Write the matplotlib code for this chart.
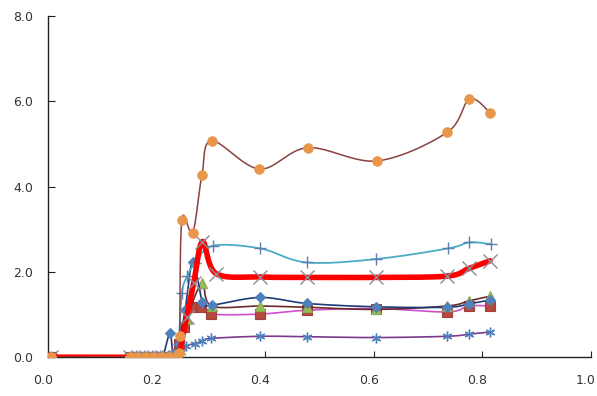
import numpy as np
import matplotlib
matplotlib.use("Agg")
import matplotlib.pyplot as plt
import matplotlib.transforms as mtransforms

# ---- data ----
x_zero = [0.005, 0.15, 0.165, 0.18, 0.195, 0.21, 0.222, 0.235]

orange_x = x_zero + [0.240, 0.242, 0.246, 0.266, 0.283, 0.301, 0.389, 0.478, 0.606, 0.735, 0.776, 0.814]
orange_y = [0]*8 + [0.1, 0.5, 3.22, 2.92, 4.27, 5.07, 4.41, 4.91, 4.60, 5.27, 6.05, 5.73]

cyan_x = x_zero + [0.240, 0.246, 0.256, 0.270, 0.303, 0.390, 0.476, 0.604, 0.737, 0.776, 0.816]
cyan_y = [0]*8 + [0.3, 1.5, 1.9, 2.2, 2.61, 2.55, 2.22, 2.30, 2.55, 2.69, 2.65]

red_x = x_zero + [0.240, 0.255, 0.268, 0.284, 0.309, 0.390, 0.477, 0.604, 0.735, 0.775, 0.814]
red_y = [0]*8 + [0.05, 0.95, 1.75, 2.71, 1.96, 1.88, 1.87, 1.87, 1.90, 2.08, 2.26]

blue_x = x_zero[:6] + [0.224, 0.230, 0.240, 0.252, 0.266, 0.284, 0.301, 0.390, 0.476, 0.604, 0.735, 0.775, 0.814]
blue_y = [0]*6 + [0.56, 0.05, 0.3, 1.1, 2.24, 1.30, 1.22, 1.40, 1.26, 1.18, 1.17, 1.25, 1.34]

green_x = x_zero + [0.240, 0.255, 0.283, 0.301, 0.390, 0.476, 0.604, 0.735, 0.775, 0.814]
green_y = [0]*8 + [0.2, 0.9, 1.73, 1.20, 1.20, 1.17, 1.12, 1.20, 1.32, 1.43]

square_x = x_zero + [0.240, 0.250, 0.266, 0.281, 0.300, 0.390, 0.476, 0.604, 0.735, 0.775, 0.814]
square_y = [0]*8 + [0.3, 0.7, 1.17, 1.17, 1.01, 1.01, 1.10, 1.14, 1.06, 1.20, 1.20]

star_x = x_zero + [0.245, 0.254, 0.270, 0.284, 0.300, 0.390, 0.477, 0.604, 0.735, 0.775, 0.814]
star_y = [0]*8 + [0.12, 0.26, 0.32, 0.38, 0.44, 0.49, 0.48, 0.46, 0.49, 0.54, 0.59]

x_ticks = [0.0, 0.2, 0.4, 0.6, 0.8, 1.0]
y_ticks = [0.0, 2.0, 4.0, 6.0, 8.0]


def smooth(x, y, n=24):
    P = np.column_stack([x, y]).astype(float)
    m = len(P)
    out = [P[0]]
    t = np.linspace(0, 1, n)[1:, None]
    for i in range(m - 1):
        p0 = P[i - 1] if i > 0 else P[i]
        p1, p2 = P[i], P[i + 1]
        p3 = P[i + 2] if i + 2 < m else P[i + 1]
        c1 = p1 + (p2 - p0) / 6.0
        c2 = p2 - (p3 - p1) / 6.0
        seg = ((1 - t) ** 3) * p1 + 3 * ((1 - t) ** 2) * t * c1 + 3 * (1 - t) * t ** 2 * c2 + t ** 3 * p2
        out.extend(seg)
    out = np.array(out)
    return out[:, 0], out[:, 1]


fig = plt.figure(figsize=(5.97, 3.96), dpi=100)
ax = fig.add_axes([0.081, 0.098, 0.909, 0.862])

series = [
    (star_x, star_y, '#7a3a8a', 1.2, dict(marker=(6, 2, 0), ms=7, mec='#4f81bd', mfc='#4f81bd', mew=1.0)),
    (square_x, square_y, '#d050d0', 1.2, dict(marker='s', ms=6.5, mec='#a0403c', mfc='#b5483f', mew=0.8)),
    (green_x, green_y, '#6b2a2a', 1.2, dict(marker='^', ms=6.5, mec='#8aab50', mfc='#9bbb59', mew=0.8)),
    (blue_x, blue_y, '#1f3a7a', 1.2, dict(marker='D', ms=5, mec='#4f81bd', mfc='#4f81bd', mew=0.8)),
    (cyan_x, cyan_y, '#4bacc6', 1.3, dict(marker='+', ms=8, mec='#5a7fb0', mfc='none', mew=1.0)),
    (red_x, red_y, '#ff0000', 4.0, dict(marker='x', ms=10, mec='#8c8c9c', mfc='none', mew=1.0)),
    (orange_x, orange_y, '#8c4040', 1.1, dict(marker='o', ms=7, mec='#e8964a', mfc='#e8964a', mew=0.5)),
]

for z, (xs, ys, lc, lw, mk) in enumerate(series):
    sx, sy = smooth(xs, ys)
    ax.plot(sx, sy, color=lc, lw=lw, zorder=2 + z * 2, solid_capstyle='round')
    ax.plot(xs, ys, ls='none', zorder=3 + z * 2, **mk)

ax.set_xlim(0, 1.0)
ax.set_ylim(0, 8.0)
ax.set_xticks(x_ticks)
ax.set_yticks(y_ticks)
ax.set_xticklabels([f"{v:.1f}" for v in x_ticks])
ax.set_yticklabels([f"{v:.1f}" for v in y_ticks])
for s in ['top', 'right']:
    ax.spines[s].set_visible(False)
for s in ['left', 'bottom']:
    ax.spines[s].set_color('#222222')
    ax.spines[s].set_linewidth(1.0)
ax.tick_params(axis='x', direction='in', length=4, pad=12, labelsize=9, colors='#222222', labelcolor='#333333')
ax.tick_params(axis='y', direction='in', length=5, pad=11, labelsize=9, colors='#222222', labelcolor='#333333')

shift = mtransforms.ScaledTranslation(-5 / 100, 0, fig.dpi_scale_trans)
for lab in ax.get_xticklabels():
    lab.set_transform(lab.get_transform() + shift)

fig.savefig('out.png', dpi=100)
